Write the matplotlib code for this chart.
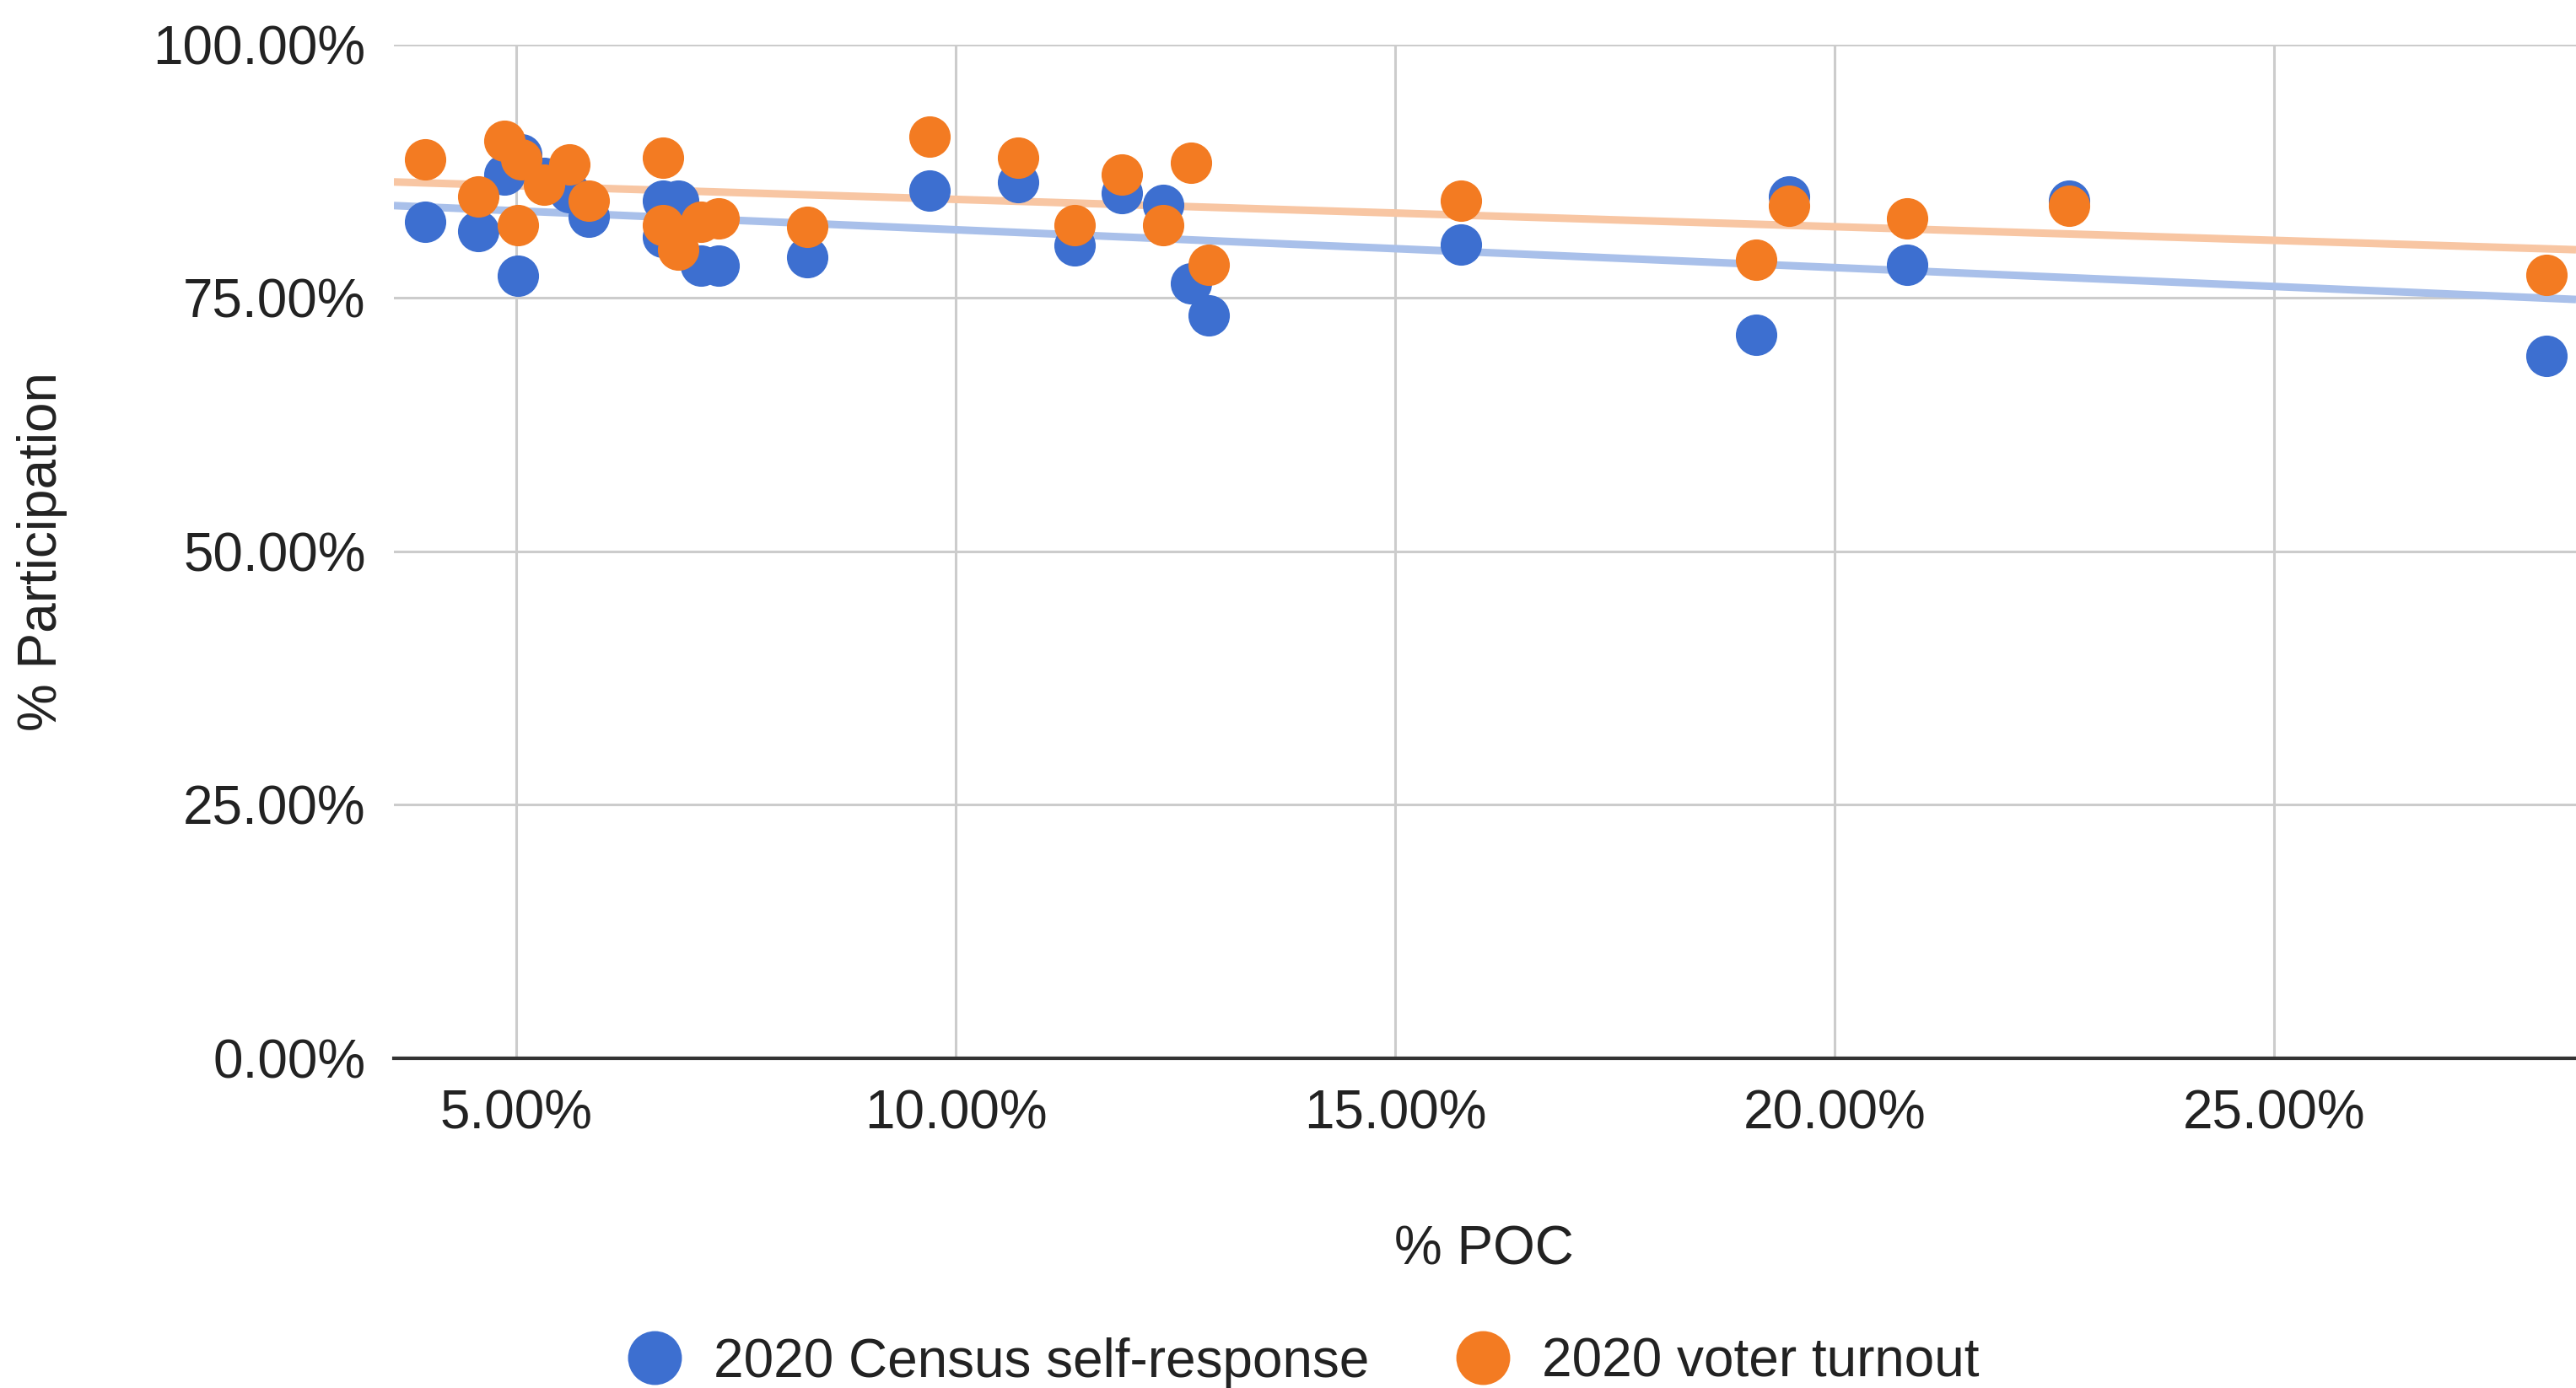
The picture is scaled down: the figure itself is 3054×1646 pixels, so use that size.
import numpy as np
import matplotlib
matplotlib.use("Agg")
import matplotlib.pyplot as plt
from matplotlib.lines import Line2D

plt.rcParams['font.family'] = ['Liberation Sans', 'DejaVu Sans']

# % POC (x) for each place
poc = [3.97, 4.57, 4.87, 5.06, 5.02, 5.32, 5.61, 5.83, 6.67, 6.84, 6.67, 7.10, 7.30,
       8.31, 9.70, 10.71, 11.35, 11.89, 12.36, 12.68, 12.88, 15.75, 19.10, 19.48,
       20.82, 22.66, 28.09]
# 2020 Census self-response (%)
census = [82.5, 81.6, 87.2, 89.2, 77.2, 86.8, 85.4, 83.0, 84.6, 84.6, 81.0, 78.2, 78.2,
          79.0, 85.6, 86.4, 80.2, 85.3, 84.2, 76.4, 73.3, 80.3, 71.4, 85.0,
          78.3, 84.6, 69.3]
# 2020 voter turnout (%)
turnout = [88.7, 85.0, 90.5, 88.7, 82.2, 86.2, 88.2, 84.6, 88.8, 79.8, 82.2, 82.5, 82.8,
           82.0, 90.9, 88.8, 82.2, 87.2, 82.2, 88.3, 78.3, 84.6, 78.8, 84.1,
           82.8, 84.1, 77.3]

series_names = ['2020 Census self-response', '2020 voter turnout']
x_ticks = [5, 10, 15, 20, 25]
y_ticks = [0, 25, 50, 75, 100]

blue = '#3d6fd0'
orange = '#f37b22'
blue_tr = '#a9c0ea'
orange_tr = '#f8c6a3'

fig = plt.figure(figsize=(30.54, 16.46), dpi=100)
ax = fig.add_axes([0.1529, 0.2375, 0.8471, 0.7305])

xlim = (3.61, 28.43)
ax.set_xlim(*xlim)
ax.set_ylim(0, 100)

# grid
for xt in x_ticks:
    ax.axvline(xt, color='#cccccc', lw=2.2, zorder=0)
for yt in y_ticks[1:]:
    ax.axhline(yt, color='#cccccc', lw=2.2, zorder=0)
ax.axhline(0, color='#333333', lw=3.0, zorder=1, clip_on=False)

# trend lines
xs = np.array(xlim)
for yvals, col in [(census, blue_tr), (turnout, orange_tr)]:
    m, b = np.polyfit(poc, yvals, 1)
    ax.plot(xs, m * xs + b, color=col, lw=6.5, zorder=2, solid_capstyle='butt')

ax.scatter(poc, census, s=1250, color=blue, zorder=3, linewidths=0)
ax.scatter(poc, turnout, s=1250, color=orange, zorder=4, linewidths=0)

for sp in ax.spines.values():
    sp.set_visible(False)

ax.set_xticks(x_ticks)
ax.set_xticklabels([f'{v:.2f}%' for v in x_ticks])
ax.set_yticks(y_ticks)
ax.set_yticklabels([f'{v:.2f}%' for v in y_ticks])
ax.tick_params(axis='both', length=0, labelsize=46, colors='#222222')
ax.tick_params(axis='y', pad=24)
ax.tick_params(axis='x', pad=26)

fig.text(0.0165, 0.6027, '% Participation', rotation=90, ha='center', va='center',
         fontsize=46, color='#222222')
fig.text(0.576, 0.0995, '% POC', ha='center', va='center', fontsize=46, color='#222222')

handles = [Line2D([], [], marker='o', ls='none', markersize=46, color=blue, markeredgewidth=0),
           Line2D([], [], marker='o', ls='none', markersize=46, color=orange, markeredgewidth=0)]
fig.legend(handles, series_names, loc='center', bbox_to_anchor=(0.506, 0.0185), ncol=2,
           frameon=False, fontsize=46, handlelength=1.0, handletextpad=0.6,
           columnspacing=1.6, labelcolor='#222222')

fig.savefig('out.png', dpi=100, facecolor='white')
